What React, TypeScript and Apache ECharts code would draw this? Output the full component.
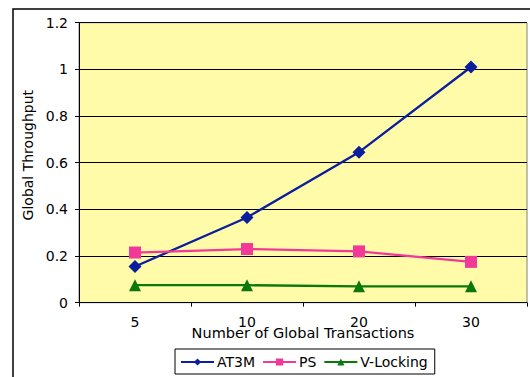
import React, { useEffect, useRef } from "react";
import * as echarts from "echarts";

const categories = ["5", "10", "20", "30"];
const at3m = [0.155, 0.365, 0.645, 1.01];
const ps = [0.215, 0.23, 0.22, 0.175];
const vLocking = [0.075, 0.075, 0.07, 0.07];
const yTicks = { min: 0, max: 1.2, interval: 0.2 };

const FONT = "DejaVu Sans";
const FS = 14;

export default function App() {
  const ref = useRef<HTMLDivElement>(null);
  useEffect(() => {
    if (!ref.current) return;
    const chart = echarts.init(ref.current, undefined, { renderer: "svg" });
    chart.setOption({
      animation: false,
      backgroundColor: "#ffffff",
      textStyle: { fontFamily: FONT },
      graphic: [
        {
          type: "rect",
          shape: { x: 13, y: 9, width: 700, height: 500 },
          style: { fill: "none", stroke: "#000", lineWidth: 1.5 },
          z: -10,
        },
      ],
      grid: {
        left: 79,
        top: 22.7,
        right: 3,
        bottom: 74.3,
        show: true,
        backgroundColor: "#FFFBA8",
        borderColor: "#808080",
        borderWidth: 1,
      },
      legend: {
        left: 175,
        top: 349,
        orient: "horizontal",
        borderColor: "#000",
        borderWidth: 1,
        borderRadius: 0,
        padding: [6, 7, 5, 5],
        itemGap: 7,
        itemWidth: 33,
        itemHeight: 9,
        textStyle: { fontFamily: FONT, fontSize: FS, color: "#000", padding: [0, 0, 0, -2] },
        data: ["AT3M", "PS", "V-Locking"],
      },
      xAxis: {
        type: "category",
        data: categories,
        boundaryGap: true,
        name: "Number of Global Transactions",
        nameLocation: "middle",
        nameGap: 23,
        nameMoveOverlap: false,
        nameTextStyle: { fontFamily: FONT, fontSize: 14.5, color: "#000" },
        axisLine: { lineStyle: { color: "#000", width: 1 } },
        axisTick: { show: true, length: 4, lineStyle: { color: "#000" } },
        axisLabel: { fontFamily: FONT, fontSize: FS, color: "#000", margin: 12 },
        splitLine: { show: false },
      },
      yAxis: {
        type: "value",
        min: yTicks.min,
        max: yTicks.max,
        interval: yTicks.interval,
        name: "Global Throughput",
        nameLocation: "middle",
        nameGap: 44,
        nameMoveOverlap: false,
        nameTextStyle: { fontFamily: FONT, fontSize: FS, color: "#000", padding: [0, 0, 0, 15] },
        axisLine: { show: true, lineStyle: { color: "#000", width: 1 } },
        axisTick: { show: true, length: 4, lineStyle: { color: "#000" } },
        axisLabel: {
          fontFamily: FONT,
          fontSize: FS,
          color: "#000",
          margin: 11,
          formatter: (v: number) => String(Math.round(v * 10) / 10),
        },
        splitLine: { show: true, lineStyle: { color: "#000", width: 1 } },
      },
      series: [
        {
          name: "AT3M",
          type: "line",
          data: at3m,
          color: "#0A1E9E",
          lineStyle: { width: 2.3, color: "#0A1E9E" },
          symbol: "diamond",
          symbolSize: 13,
          itemStyle: { color: "#0A1E9E" },
        },
        {
          name: "PS",
          type: "line",
          data: ps,
          color: "#F2399A",
          lineStyle: { width: 2.3, color: "#F2399A" },
          symbol: "rect",
          symbolSize: 12,
          itemStyle: { color: "#F2399A" },
        },
        {
          name: "V-Locking",
          type: "line",
          data: vLocking,
          color: "#0A780A",
          lineStyle: { width: 2.3, color: "#0A780A" },
          symbol: "triangle",
          symbolSize: 12,
          itemStyle: { color: "#0A780A" },
        },
      ],
    });
    return () => chart.dispose();
  }, []);
  return <div ref={ref} style={{ width: 530, height: 377, position: "absolute", left: 0, top: 0 }} />;
}
